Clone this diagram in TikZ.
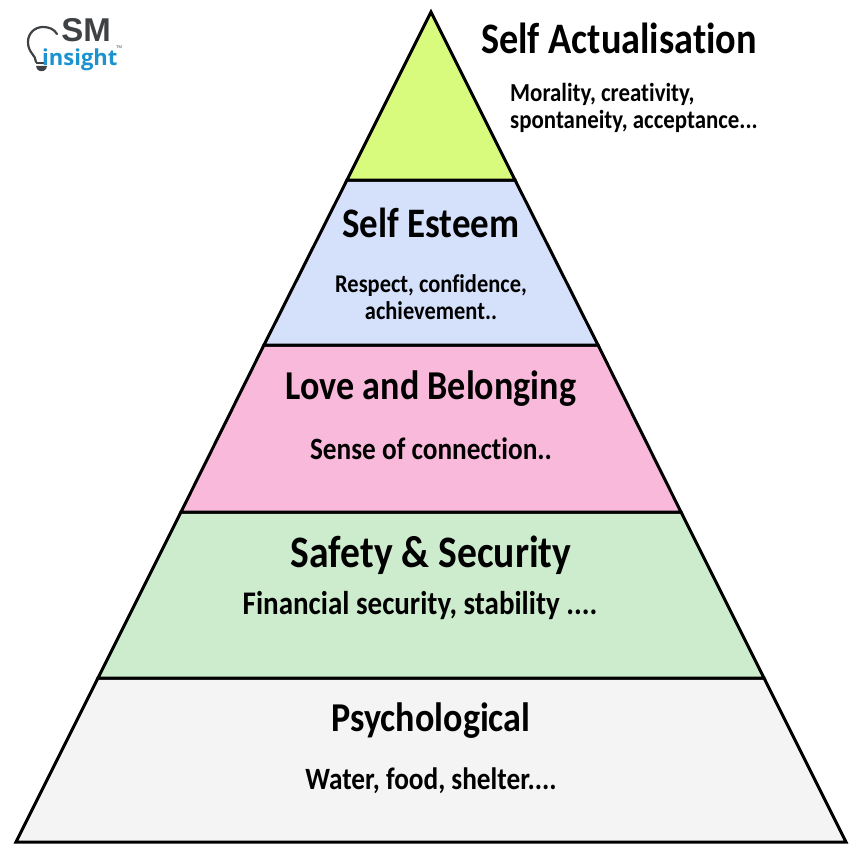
\documentclass[tikz,border=0pt]{standalone}
\usepackage{fontspec}
\setmainfont[FakeStretch=0.88,Ligatures=NoCommon]{Carlito}
\definecolor{lvlA}{HTML}{D8FB7E}
\definecolor{lvlB}{HTML}{D5E0FB}
\definecolor{lvlC}{HTML}{F9B9DA}
\definecolor{lvlD}{HTML}{CDEBCD}
\definecolor{lvlE}{HTML}{F4F4F4}
\definecolor{logoGray}{HTML}{3F4244}
\definecolor{logoBlue}{HTML}{1C93CF}
\tikzset{
  tier/.style={draw=black,line width=3pt,line join=miter},
  headtxt/.style={font=\bfseries\fontsize{#1}{#1}\selectfont,inner sep=0pt,anchor=center,text=black},
  subtxt/.style={font=\bfseries\fontsize{#1}{27}\selectfont,inner sep=0pt,anchor=center,align=center,text=black},
}
\begin{document}
\begin{tikzpicture}[x=1pt,y=-1pt]
\useasboundingbox (0,0) rectangle (858,864);
\fill[white] (0,0) rectangle (858,864);
% pyramid
\coordinate (apex) at (431,12);
\coordinate (l1) at (347,180); \coordinate (r1) at (515,180);
\coordinate (l2) at (264,345); \coordinate (r2) at (598,345);
\coordinate (l3) at (181,512); \coordinate (r3) at (681,512);
\coordinate (l4) at (98,678);  \coordinate (r4) at (764,678);
\coordinate (l5) at (16,842);  \coordinate (r5) at (846,842);
\draw[tier,fill=lvlE] (l4) -- (r4) -- (r5) -- (l5) -- cycle;
\draw[tier,fill=lvlD] (l3) -- (r3) -- (r4) -- (l4) -- cycle;
\draw[tier,fill=lvlC] (l2) -- (r2) -- (r3) -- (l3) -- cycle;
\draw[tier,fill=lvlB] (l1) -- (r1) -- (r2) -- (l2) -- cycle;
\draw[tier,fill=lvlA] (apex) -- (r1) -- (l1) -- cycle;
% labels
\node[headtxt=43.5] (h1) at (619,38) {Self Actualisation};
\node[subtxt=26,align=left,anchor=west] (s1) at (510,108) {Morality, creativity,\\spontaneity, acceptance...};
\node[headtxt=42] (h2) at (431,223) {Self Esteem};
\node[subtxt=25.5] (s2) at (431,297) {Respect, confidence,\\achievement..};
\node[headtxt=41] (h3) at (431,389) {Love and Belonging};
\node[subtxt=31] (s3) at (431,449) {Sense of connection..};
\node[headtxt=45] (h4) at (431,555) {Safety \& Security};
\node[subtxt=33] (s4) at (420,606) {Financial security, stability ....};
\node[headtxt=41] (h5) at (431,721) {Psychological};
\node[subtxt=31] (s5) at (431,781) {Water, food, shelter....};
% logo
\draw[logoGray,line width=2.2pt,line cap=round]
  (36,62) .. controls (36,55) and (28,53) .. (28,42)
  .. controls (28,33) and (35,27) .. (43,27)
  .. controls (49,27) and (54,29) .. (57,34);
\draw[logoGray,line width=2.2pt] (36,63) -- (46,63);
\fill[logoGray] (36,66) -- (47,66) -- (46,69) .. controls (44,72) and (39,72) .. (37,69) -- cycle;
\node[font=\fontspec{Liberation Sans}\bfseries\fontsize{33}{33}\selectfont,text=logoGray,inner sep=0pt,anchor=center] (logoSM) at (86,30) {SM};
\node[font=\fontspec{Open Sans}\bfseries\fontsize{22}{22}\selectfont,text=logoBlue,inner sep=0pt,anchor=base west] (logoIn) at (42,66) {insight};
\node[font=\fontspec{Liberation Sans}\fontsize{4}{4}\selectfont,text=logoGray,inner sep=0pt,anchor=center] (logoTM) at (119,47) {TM};
\end{tikzpicture}
\end{document}
